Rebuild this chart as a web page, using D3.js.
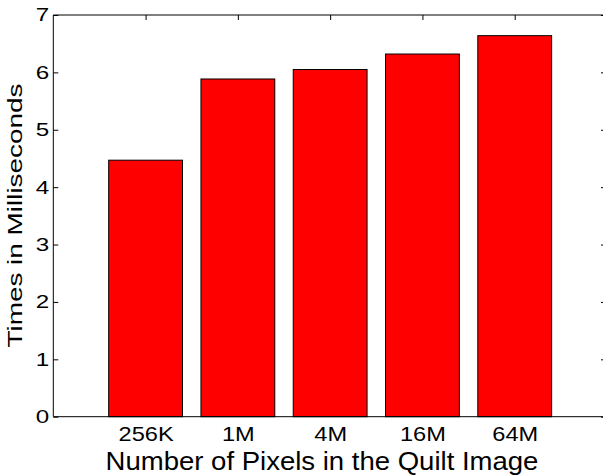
<!DOCTYPE html>
<html>
<head>
<meta charset="UTF-8">
<script src="https://cdn.jsdelivr.net/npm/d3@7"></script>
<style>
  body { margin: 0; background: #fff; }
  svg text { font-family: "Liberation Sans", Arial, Helvetica, sans-serif; fill: #000; }
</style>
</head>
<body>
<script>
  // data
  var categories = ["256K", "1M", "4M", "16M", "64M"];
  var times = [4.47, 5.885, 6.05, 6.32, 6.64];
  var yTicks = [0, 1, 2, 3, 4, 5, 6, 7];

  function drawChart() {
    var w = 603, h = 476;
    var padLeft = 53.3, padRight = 607, padTop = 15, padBottom = 416.7;

    var svg = d3.select("body").append("svg")
      .attr("width", w)
      .attr("height", h);

    // matlab style: x runs 0..6, bars sit on 1..5
    var x = d3.scaleLinear().domain([0, categories.length + 1]).range([padLeft, padRight]);
    var y = d3.scaleLinear().domain([0, 7]).range([padBottom, padTop]);
    var barW = (x(1) - x(0)) * 0.8;

    // box
    svg.append("line").attr("x1", padLeft).attr("x2", padRight).attr("y1", padTop).attr("y2", padTop)
      .attr("stroke", "#000");
    svg.append("line").attr("x1", padRight).attr("x2", padRight).attr("y1", padTop).attr("y2", padBottom)
      .attr("stroke", "#000");

    // top ticks
    svg.append("g")
      .attr("transform", "translate(0," + padTop + ")")
      .call(d3.axisTop(x).tickValues(d3.range(1, categories.length + 1)).tickSize(-5).tickFormat(""))
      .call(g => g.select(".domain").remove());

    // right ticks
    svg.append("g")
      .attr("transform", "translate(" + (padRight - 1) + ",0)")
      .call(d3.axisRight(y).tickValues(yTicks).tickSize(-5).tickFormat(""))
      .call(g => g.select(".domain").remove());

    // bars
    svg.selectAll(".bar")
      .data(times)
      .enter()
      .append("rect")
      .attr("class", "bar")
      .attr("x", (d, i) => x(i + 1) - barW / 2)
      .attr("y", d => y(d))
      .attr("width", barW)
      .attr("height", d => y(0) - y(d))
      .attr("fill", "#ff0000")
      .attr("stroke", "#000")
      .attr("stroke-width", 1);

    // y axis
    var yAxis = svg.append("g")
      .attr("transform", "translate(" + padLeft + ",0)")
      .call(d3.axisLeft(y).tickValues(yTicks).tickSize(-5).tickSizeOuter(0)
        .tickFormat(d3.format("d")));
    yAxis.select(".domain").attr("d", "M0," + padTop + "V" + padBottom);
    yAxis.selectAll("text")
      .attr("x", 0)
      .attr("transform", "translate(-4,0) scale(1.3,1)")
      .style("font-size", "18.6px");

    // x axis
    var xAxis = svg.append("g")
      .attr("transform", "translate(0," + padBottom + ")")
      .call(d3.axisBottom(x).tickValues(d3.range(1, categories.length + 1))
        .tickSize(0).tickFormat((d) => categories[d - 1]));
    xAxis.select(".domain").attr("d", "M" + padLeft + ",0H" + padRight);
    xAxis.selectAll("text")
      .attr("y", 0)
      .attr("dy", 0)
      .attr("transform", "translate(0,24.5) scale(1.18,1)")
      .style("font-size", "20px");

    svg.selectAll(".tick line").attr("stroke", "#000");
    svg.selectAll(".domain").attr("stroke", "#000");

    // titles
    svg.append("text")
      .attr("text-anchor", "middle")
      .attr("transform", "translate(322,470) scale(1.08,1)")
      .style("font-size", "25.5px")
      .text("Number of Pixels in the Quilt Image");

    svg.append("text")
      .attr("text-anchor", "middle")
      .attr("transform", "translate(21.7,215.5) rotate(-90) scale(1.33,1)")
      .style("font-size", "21px")
      .text("Times in Milliseconds");
  }

  drawChart();
</script>
</body>
</html>
